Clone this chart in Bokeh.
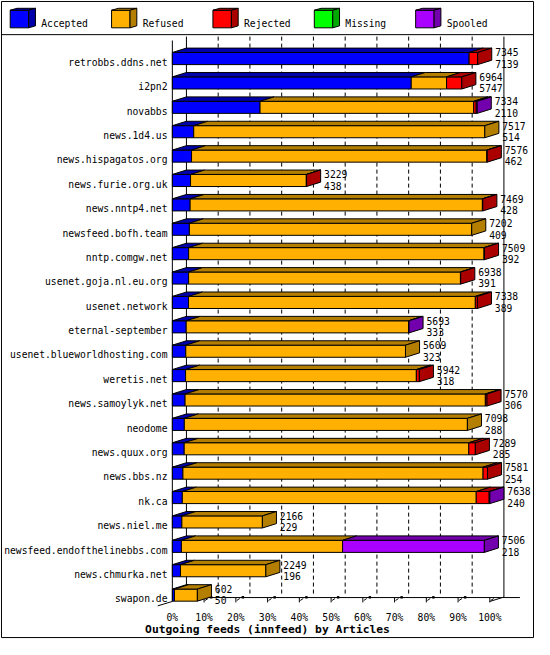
from bokeh.plotting import figure
from bokeh.models import Range1d, ColumnDataSource
from bokeh.embed import file_html
from bokeh.resources import INLINE
from bokeh.core.properties import value

# ---------------- data ----------------
hosts = ["retrobbs.ddns.net", "i2pn2", "novabbs", "news.1d4.us", "news.hispagatos.org",
         "news.furie.org.uk", "news.nntp4.net", "newsfeed.bofh.team", "nntp.comgw.net",
         "usenet.goja.nl.eu.org", "usenet.network", "eternal-september",
         "usenet.blueworldhosting.com", "weretis.net", "news.samoylyk.net", "neodome",
         "news.quux.org", "news.bbs.nz", "nk.ca", "news.niel.me",
         "newsfeed.endofthelinebbs.com", "news.chmurka.net", "swapon.de"]
offered  = [7345, 6964, 7334, 7517, 7576, 3229, 7469, 7202, 7509, 6938, 7338, 5693,
            5609, 5942, 7570, 7098, 7289, 7581, 7638, 2166, 7506, 2249, 602]
accepted = [7139, 5747, 2110, 514, 462, 438, 428, 409, 392, 391, 389, 333,
            323, 318, 306, 288, 285, 254, 240, 229, 218, 196, 50]
refused  = [0, 850, 5140, 7003, 7104, 2785, 7031, 6793, 7107, 6540, 6900, 5352,
            5286, 5552, 7224, 6810, 6847, 7221, 7071, 1937, 3877, 2053, 552]
rejected = [206, 367, 60, 0, 10, 6, 10, 0, 10, 7, 49, 0,
            0, 72, 40, 0, 157, 106, 311, 0, 0, 0, 0]
missing  = [0] * 23
spooled  = [0, 0, 24, 0, 0, 0, 0, 0, 0, 0, 0, 8,
            0, 0, 0, 0, 0, 0, 16, 0, 3411, 0, 0]
series_names = ["Accepted", "Refused", "Rejected", "Missing", "Spooled"]
front_colors = ["#0000ff", "#ffb000", "#ff0000", "#00ff00", "#aa00ff"]
dark_colors  = ["#0000aa", "#b47f00", "#aa0000", "#00a800", "#7200ac"]
pct_ticks = [0, 10, 20, 30, 40, 50, 60, 70, 80, 90, 100]
tick_labels = ["0%", "10%", "20%", "30%", "40%", "50%", "60%", "70%", "80%", "90%", "100%"]
chart_title = "Outgoing feeds (innfeed) by Articles"

# ---------------- layout (reference pixel geometry) ----------------
W, H = 534, 639
REF_W, REF_H = 550, 655
FS = W / REF_W
X0, PXPCT = 177.0, 3.27       # front 0% and px per percent
Y0, ROWPX = 59.5, 25.0        # centre of first bar front face, row pitch
DEPTH_X, DEPTH_Y = 14.5, -4.5  # 3d offset in px
HALF = 6.2 / ROWPX


def X(px):
    return (px - X0) / PXPCT


def Y(py):
    return (py - Y0) / ROWPX


DX = DEPTH_X / PXPCT
DY = DEPTH_Y / ROWPX
FONT = value("DejaVu Sans Mono")
FSZ = "%.1fpx" % (10 * FS)

p = figure(width=W, height=H, x_range=Range1d(X(0), X(REF_W)),
           y_range=Range1d(Y(REF_H), Y(0)), output_backend="svg",
           toolbar_location=None, min_border=0, x_axis_type=None, y_axis_type=None,
           title=None)
p.grid.visible = False
p.outline_line_color = None
p.background_fill_color = "white"
p.border_fill_color = "white"

total_max = max(offered)
series = [accepted, refused, rejected, missing, spooled]

# ---------------- back plane gridlines ----------------
grid_x = [X(X0 + DEPTH_X + t * PXPCT) for t in pct_ticks]
dashed = grid_x[1:-1]
p.segment(x0=dashed, y0=[Y(37)] * len(dashed), x1=dashed, y1=[Y(611)] * len(dashed),
          line_color="black", line_width=1, line_dash="4 3")
p.segment(x0=[grid_x[0], grid_x[-1]], y0=[Y(37)] * 2, x1=[grid_x[0], grid_x[-1]],
          y1=[Y(612)] * 2, line_color="black", line_width=1)

# floor / axes
p.segment(x0=[0, X(177), X(162), X(X0 + 100 * PXPCT)],
          y0=[Y(612), Y(41), Y(620.5), Y(616)],
          x1=[X(535), X(177), X(177), X(X0 + 100 * PXPCT + DEPTH_X)],
          y1=[Y(612), Y(616), Y(616), Y(611.5)],
          line_color="black", line_width=1)
tk = pct_ticks[1:]
p.segment(x0=tk, y0=[Y(612)] * len(tk), x1=tk, y1=[Y(617)] * len(tk),
          line_color="black", line_width=1)
p.segment(x0=[t + X(X0 + 1) for t in tk], y0=[Y(615)] * len(tk),
          x1=[t + X(X0 + 4) for t in tk], y1=[Y(613)] * len(tk),
          line_color="black", line_width=1)
p.quad(left=[t + X(X0 + 6) for t in tk[:-1]], right=[t + X(X0 + 8.5) for t in tk[:-1]],
       top=[Y(610.5)] * (len(tk) - 1), bottom=[Y(613)] * (len(tk) - 1),
       fill_color="black", line_color=None)

# ---------------- bars ----------------
fl, fr, ft, fb, fc = [], [], [], [], []
pxs, pys, pc = [], [], []
lab_x, lab1, lab2, lab_y1, lab_y2 = [], [], [], [], []
for i, h in enumerate(hosts):
    start = 0.0
    last = None
    for s, vals in enumerate(series):
        v = vals[i]
        if v <= 0:
            continue
        a = start
        b = start + v / total_max * 100.0
        fl.append(a); fr.append(b); ft.append(i - HALF); fb.append(i + HALF)
        fc.append(front_colors[s])
        pxs.append([a, b, b + DX, a + DX])
        pys.append([i - HALF, i - HALF, i - HALF + DY, i - HALF + DY])
        pc.append(dark_colors[s])
        start = b
        last = s
    pxs.append([start, start + DX, start + DX, start])
    pys.append([i - HALF, i - HALF + DY, i + HALF + DY, i + HALF])
    pc.append(dark_colors[last])
    lab_x.append(start + DX + 3.5 / PXPCT)
    lab1.append(str(offered[i]))
    lab2.append(str(accepted[i]))
    lab_y1.append(i - 0.25)
    lab_y2.append(i + 0.22)

p.quad(left=fl, right=fr, top=ft, bottom=fb, fill_color=fc, line_color="black",
       line_width=1)
p.patches(xs=pxs, ys=pys, fill_color=pc, line_color="black", line_width=1)

# value labels
p.text(x=lab_x, y=lab_y1, text=lab1, text_font=FONT, text_font_size=FSZ,
       text_baseline="alphabetic", text_align="left", text_color="black")
p.text(x=lab_x, y=lab_y2, text=lab2, text_font=FONT, text_font_size=FSZ,
       text_baseline="alphabetic", text_align="left", text_color="black")

# category labels
p.text(x=[X(172)] * len(hosts), y=[i + 0.155 for i in range(len(hosts))], text=hosts,
       text_font=FONT, text_font_size=FSZ, text_baseline="alphabetic",
       text_align="right", text_color="black")

# percent tick labels
p.text(x=pct_ticks, y=[Y(632.5)] * len(pct_ticks), text=tick_labels, text_font=FONT,
       text_font_size=FSZ, text_baseline="alphabetic", text_align="center",
       text_color="black")

# title
p.text(x=[X(275)], y=[Y(645)], text=[chart_title], text_font=FONT,
       text_font_size="%.1fpx" % (11.6 * FS), text_font_style="bold",
       text_baseline="alphabetic", text_align="center", text_color="black")

# ---------------- legend ----------------
LX, LSTEP = 10.0, 104.4
lg_l, lg_r, lg_t, lg_b = [], [], [], []
lg_px, lg_py, lg_pc = [], [], []
lg_tx = []
for k, name in enumerate(series_names):
    x0 = LX + k * LSTEP
    x1 = x0 + 19
    lg_l.append(X(x0)); lg_r.append(X(x1)); lg_t.append(Y(10)); lg_b.append(Y(28))
    lg_px.append([X(x0), X(x1), X(x1 + 7), X(x0 + 7)])
    lg_py.append([Y(10), Y(10), Y(8), Y(8)])
    lg_px.append([X(x1), X(x1 + 7), X(x1 + 7), X(x1)])
    lg_py.append([Y(10), Y(8), Y(26), Y(28)])
    lg_pc += [dark_colors[k], dark_colors[k]]
    lg_tx.append(X(x0 + 32))
p.quad(left=lg_l, right=lg_r, top=lg_t, bottom=lg_b, fill_color=front_colors,
       line_color="black", line_width=1)
p.patches(xs=lg_px, ys=lg_py, fill_color=lg_pc, line_color="black", line_width=1)
p.text(x=lg_tx, y=[Y(24)] * 5, text=series_names, text_font=FONT, text_font_size=FSZ,
       text_baseline="alphabetic", text_align="left", text_color="black")

# border and separator
p.quad(left=[X(1)], right=[X(549)], top=[Y(1)], bottom=[Y(653)], fill_color=None,
       line_color="black", line_width=1)
p.segment(x0=[X(1)], y0=[Y(35)], x1=[X(549)], y1=[Y(35)], line_color="black",
          line_width=1)

open("out.html", "w").write(file_html(p, INLINE))
